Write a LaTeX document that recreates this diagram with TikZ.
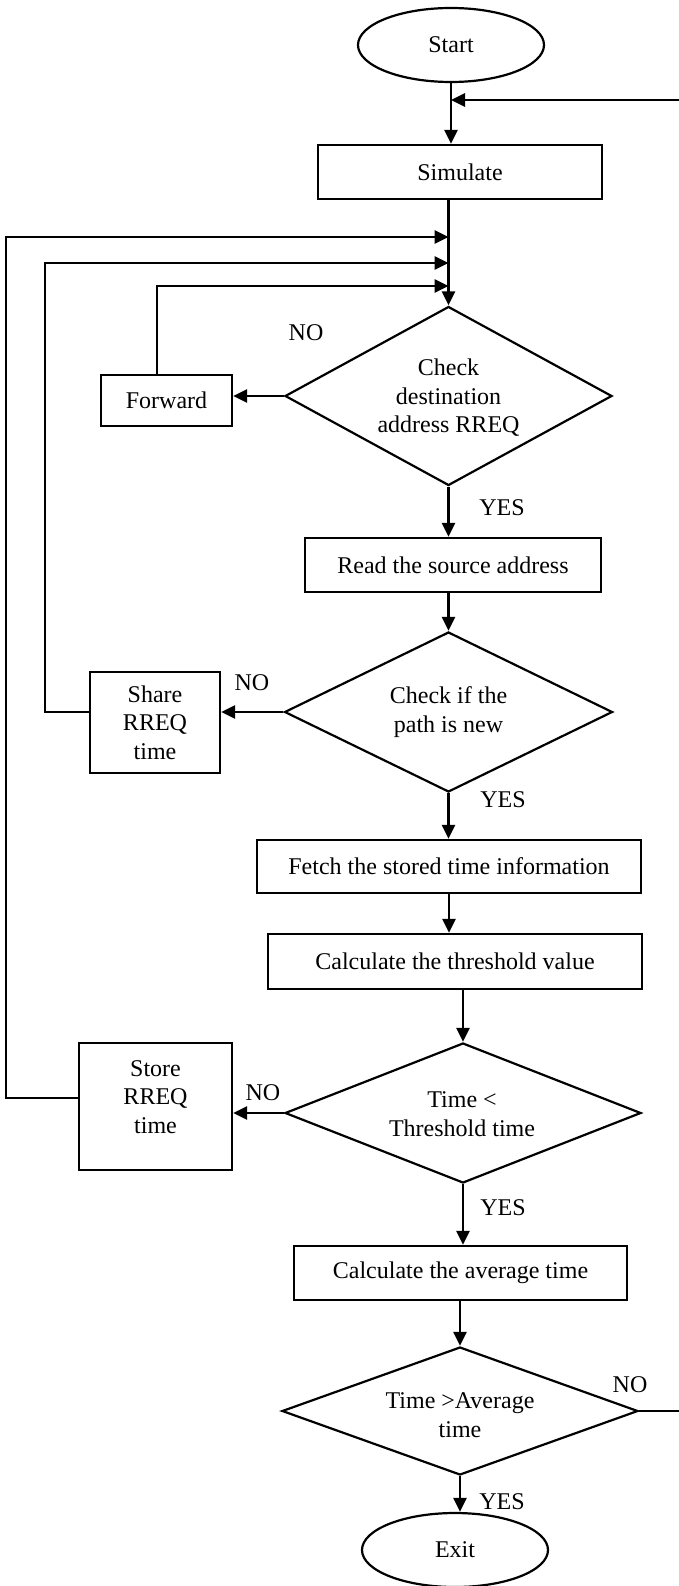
\documentclass[tikz,border=0pt]{standalone}
\usepackage{fontspec}
\setmainfont{Liberation Serif}
\usetikzlibrary{shapes.geometric,arrows.meta,calc}
\begin{document}
\begin{tikzpicture}[x=1pt,y=-1pt,
  every node/.style={font=\fontsize{24}{28.5}\selectfont, align=center},
  box/.style={draw, line width=2.2pt, rectangle, inner sep=0pt},
  dia/.style={draw, line width=2.2pt, diamond, inner sep=0pt},
  oval/.style={draw, line width=2.2pt, ellipse, inner sep=0pt},
  arr/.style={line width=2.7pt, -{Triangle[length=14pt,width=13pt]}},
  lbl/.style={inner sep=0pt}
]
\useasboundingbox (0,0) rectangle (679,1586);
\clip (0,0) rectangle (679,1586);

% nodes
\node[oval, minimum width=186pt, minimum height=74pt] (start) at (451,45) {Start};
\node[box, minimum width=284pt, minimum height=54pt] (sim) at (460,172) {Simulate};
\node[dia, minimum width=327pt, minimum height=179pt] (d1) at (448.5,396) {};
\node (d1t) at (448.5,398) {Check\\destination\\address RREQ};
\node[box, minimum width=131pt, minimum height=51pt] (fwd) at (166.5,400.5) {Forward};
\node[box, minimum width=296pt, minimum height=54pt] (read) at (453,565) {Read the source address};
\node[dia, minimum width=328pt, minimum height=160pt] (d2) at (448.5,712) {};
\node (d2t) at (448.5,712) {Check if the\\path is new};
\node[box, minimum width=130pt, minimum height=101pt] (share) at (155,722.5) {Share\\RREQ\\time};
\node[box, minimum width=384pt, minimum height=53pt] (fetch) at (449,866.5) {Fetch the stored time information};
\node[box, minimum width=374pt, minimum height=55pt] (thr) at (455,961.5) {Calculate the threshold value};
\node[dia, minimum width=356pt, minimum height=140pt] (d3) at (463,1113) {};
\node (d3t) at (462,1114) {Time <\\Threshold time};
\node[box, minimum width=153pt, minimum height=127pt] (store) at (155.5,1106.5) {};
\node (storet) at (155.5,1097) {Store\\RREQ\\time};
\node[box, minimum width=333pt, minimum height=54pt] (avg) at (460.5,1273) {Calculate the average time};
\node[dia, minimum width=356pt, minimum height=128pt] (d4) at (460,1411) {};
\node (d4t) at (460,1415) {Time >Average\\time};
\node[oval, minimum width=186pt, minimum height=74pt] (exit) at (455,1550) {Exit};

% junction points on the main line
\coordinate (j0) at (451,100);
\coordinate (j1) at (448.5,237);
\coordinate (j2) at (448.5,263);
\coordinate (j3) at (448.5,286);

% connectors
\draw[arr] (start.south) -- (start.south |- sim.north);
\draw[arr] (d4.east) -- ++(60,0) |- (j0);
\draw[arr] (d1.north |- sim.south) -- (d1.north);
\draw[arr] ([xshift=-9.5pt]fwd.north) |- (j3);
\draw[arr] (share.west |- d2.west) -- ++(-44,0) |- (j2);
\draw[arr] ([yshift=8.5pt]store.west) -- ++(-72,0) |- (j1);
\draw[arr] (d1.west) -- (d1.west -| fwd.east);
\draw[arr] (d1.south) -- (d1.south |- read.north);
\draw[arr] (d2.north |- read.south) -- (d2.north);
\draw[arr] (d2.west) -- (d2.west -| share.east);
\draw[arr] (d2.south) -- (d2.south |- fetch.north);
\draw[arr] (fetch.south) -- (fetch.south |- thr.north);
\draw[arr] (d3.north |- thr.south) -- (d3.north);
\draw[arr] (d3.west) -- (d3.west -| store.east);
\draw[arr] (d3.south) -- (d3.south |- avg.north);
\draw[arr] (d4.north |- avg.south) -- (d4.north);
\draw[arr] (d4.south) -- (d4.south |- exit.north);

% labels
\node[lbl] (no1) at (306,333) {NO};
\node[lbl] (yes1) at (502,508) {YES};
\node[lbl] (no2) at (252,683) {NO};
\node[lbl] (yes2) at (503,800) {YES};
\node[lbl] (no3) at (263,1093) {NO};
\node[lbl] (yes3) at (503,1208) {YES};
\node[lbl] (no4) at (630,1385) {NO};
\node[lbl] (yes4) at (502,1502) {YES};
\end{tikzpicture}
\end{document}
